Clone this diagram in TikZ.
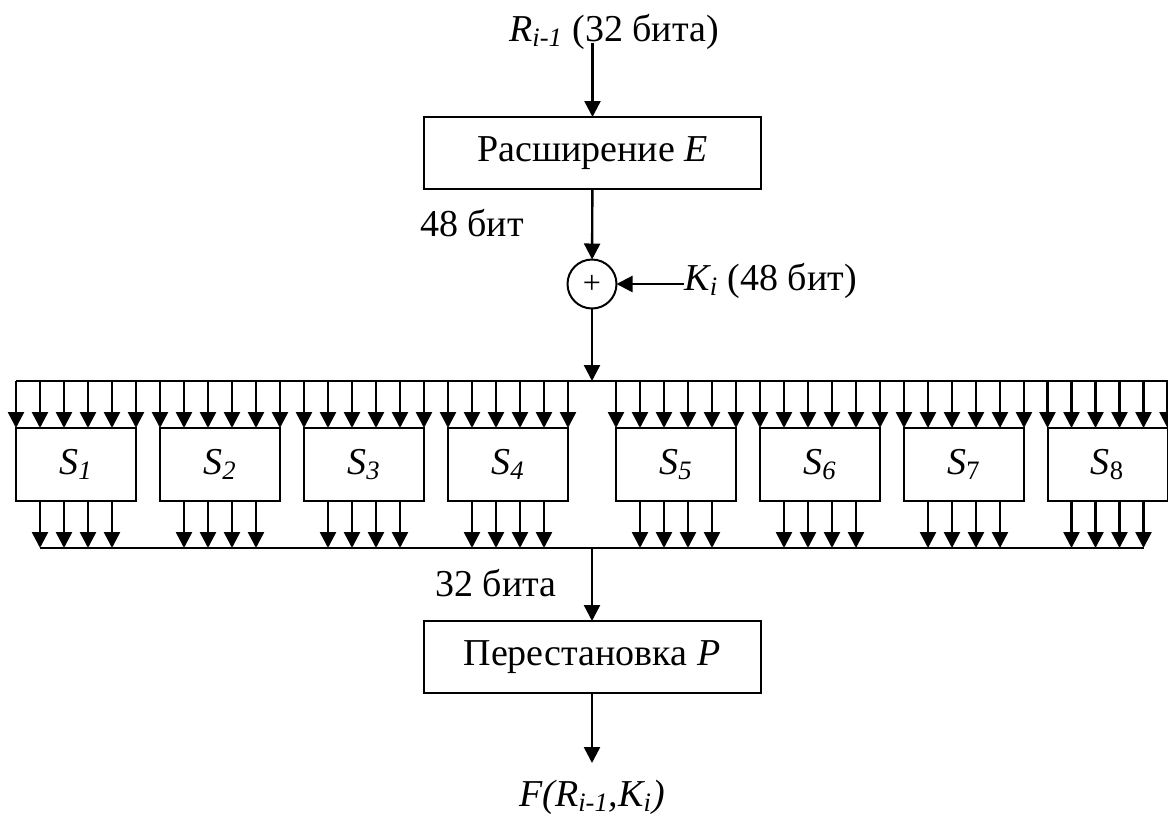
\documentclass[tikz,border=0pt]{standalone}
\usepackage{fontspec}
\setmainfont{Liberation Serif}
\newfontfamily\descfont{Liberation Serif}
\usetikzlibrary{positioning,arrows.meta,calc}

\begin{document}
\begin{tikzpicture}[
    x=0.5pt, y=-0.5pt,
    box/.style={draw, line width=1pt, outer sep=0pt, inner sep=0pt, minimum width=168.5pt, minimum height=36pt, font=\descfont\fontsize{19}{23}\selectfont},
    sbox/.style={box, minimum width=60pt, minimum height=36.5pt},
    sum/.style={draw, circle, line width=1pt, outer sep=0pt, inner sep=0pt, minimum size=24.5pt, font=\descfont\fontsize{16}{18}\selectfont},
    lbl/.style={inner sep=0pt, font=\descfont\fontsize{19}{23}\selectfont},
    arr/.style={-{Triangle[length=8pt, width=8pt]}, line width=1.2pt},
    bus/.style={line width=1.2pt}]
  \useasboundingbox (0,0) rectangle (1168,816);
  \node[lbl, anchor=base] (rin) at (614,41) {\textit{R\textsubscript{i-1}} (32 бита)};
  \node[box] (efun) at (592.5,153) {Расширение \textit{E}};
  \node[lbl] (lbl48) at (472,223) {48 бит};
  \node[sum] (xor) at (592,284) {+};
  \node[lbl, anchor=base west] (key) at (684,290) {\textit{K\textsubscript{i}} (48 бит)};
  \coordinate (bustop) at (592,381);
  \coordinate (busbot) at (592,548);
  \foreach \k/\cx/\lab in {1/76/{\textit{S\textsubscript{1}}}, 2/220/{\textit{S\textsubscript{2}}}, 3/364/{\textit{S\textsubscript{3}}}, 4/508/{\textit{S\textsubscript{4}}}, 5/676/{\textit{S\textsubscript{5}}}, 6/820/{\textit{S\textsubscript{6}}}, 7/964/{\textit{S}\textsubscript{7}}, 8/1107.5/{\textit{S}\textsubscript{8}}}
    \node[sbox] (s\k) at (\cx,464.5) {\lab};
  \node[lbl] (lbl32) at (496,583) {32 бита};
  \node[box] (pbox) at (592,657) {Перестановка \textit{P}};
  \coordinate (fend) at (592,763);
  \node[lbl, anchor=base] (fout) at (592,806) {\textit{F(R\textsubscript{i-1},K\textsubscript{i})}};
  \draw[arr] ([yshift=-1pt]rin.base -| efun.north) -- (efun.north);
  \draw[arr] (efun) -- (xor);
  \draw[arr] (key.west |- xor) -- (xor);
  \draw[arr] (xor) -- (bustop);
  \draw[bus] (s1.north west |- bustop) -- (s8.north east |- bustop);
  \foreach \k in {1,...,8} {
    \foreach \j in {0,...,5}
      \draw[arr] ([xshift=\j*12pt]s\k.north west |- bustop) -- ([xshift=\j*12pt]s\k.north west);
    \foreach \j in {1,...,4}
      \draw[arr] ([xshift=\j*12pt]s\k.south west) -- ([xshift=\j*12pt]s\k.south west |- busbot);
  }
  \draw[bus] ([xshift=12pt]s1.south west |- busbot) -- ([xshift=-12pt]s8.south east |- busbot);
  \draw[arr] (busbot) -- (pbox);
  \draw[arr] (pbox) -- (fend);
\end{tikzpicture}
\end{document}
